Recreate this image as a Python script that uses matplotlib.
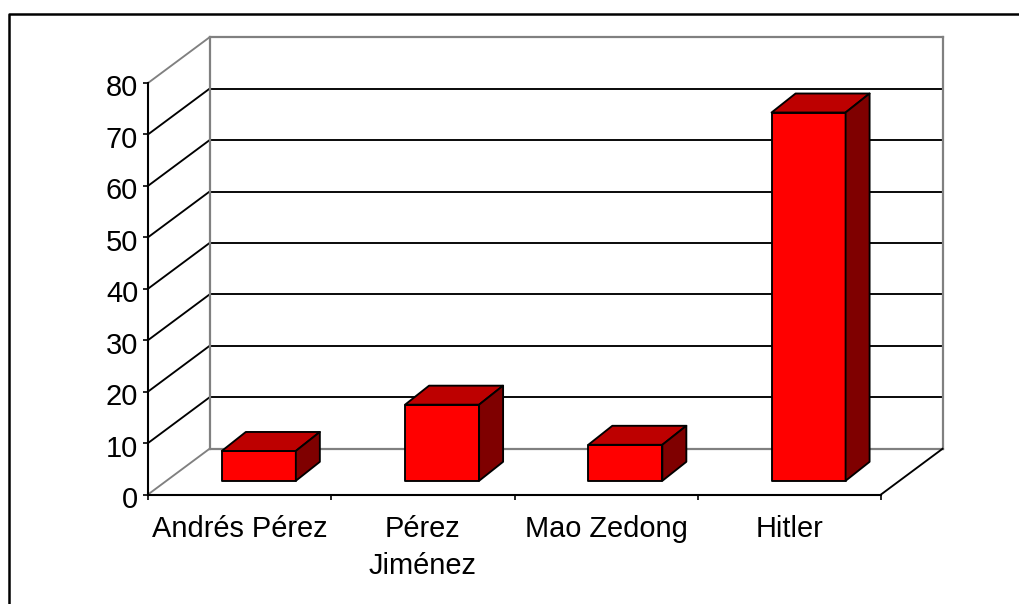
import matplotlib
matplotlib.use("Agg")
import matplotlib.pyplot as plt
from matplotlib.lines import Line2D
from matplotlib.patches import Polygon
from matplotlib.transforms import Affine2D

categories = ["Andrés Pérez", "Pérez\nJiménez", "Mao Zedong", "Hitler"]
values = [5.8, 14.8, 7.0, 71.6]
y_ticks = [0, 10, 20, 30, 40, 50, 60, 70, 80]

W, H = 1019, 604
plt.rcParams["font.family"] = ["Liberation Sans", "DejaVu Sans"]
fig = plt.figure(figsize=(W / 100, H / 100), dpi=100, facecolor="white")

# Outer frame
fig.add_artist(Line2D([9 / W, 9 / W, 1], [0, 1 - 13.5 / H, 1 - 13.5 / H],
                      transform=fig.transFigure, color="black", lw=1.8))

L, R, T, B = 148, 881, 83, 494.5
ax = fig.add_axes([L / W, 1 - B / H, (R - L) / W, (B - T) / H])
ax.patch.set_visible(False)
ax.set_xlim(0, len(categories))
ax.set_ylim(0, 80)
for s in ("top", "right"):
    ax.spines[s].set_visible(False)
for s in ("left", "bottom"):
    ax.spines[s].set_linewidth(1.5)
    ax.spines[s].set_zorder(6)

FS = 20.9
ax.set_yticks(y_ticks)
ax.set_xticks(range(len(categories) + 1))
ax.set_xticklabels([])
ax.set_xticks([i + 0.5 for i in range(len(categories))], categories, minor=True)
ax.tick_params(axis="both", which="major", length=5 * 0.72, width=1.2, labelsize=FS, pad=3.5)
ax.tick_params(axis="x", which="minor", length=0, labelsize=FS, pad=14.5)
for lab in ax.get_xticklabels(minor=True):
    lab.set_linespacing(1.42)
for lab in ax.get_yticklabels():
    lab.set_transform(lab.get_transform() + Affine2D().translate(0, -2.5))

# Depth offsets in display pixels
DX, DY = 61.5, 45.7
back = ax.transData + Affine2D().translate(DX, DY)
n = len(categories)
GREY = "#808080"
LW = 1.35


def depth_line(x, y, color):
    p0 = ax.transData.transform((x, y))
    ax.add_line(Line2D([p0[0], p0[0] + DX], [p0[1], p0[1] + DY], transform=None,
                       color=color, lw=LW, clip_on=False, zorder=2))


for v in y_ticks:
    edge = v in (y_ticks[0], y_ticks[-1])
    color = GREY if edge else "black"
    ax.plot([0, n], [v, v], transform=back, color=color, lw=1.6 if edge else LW,
            clip_on=False, zorder=1.5 if edge else 1.2, solid_capstyle="projecting")
    depth_line(0, v, color)
ax.plot([0, 0], [0, 80], transform=back, color=GREY, lw=1.6, clip_on=False, zorder=2)
ax.plot([n, n], [0, 80], transform=back, color=GREY, lw=1.6, clip_on=False, zorder=2)
depth_line(n, 0, "black")

# Bars drawn as boxes offset into the depth of the floor
BAR_W = 0.404
FX, FY = 19.2, 13.7
BX, BY = 24.0, 19.0
front = ax.transData + Affine2D().translate(FX, FY)
rear = ax.transData + Affine2D().translate(FX + BX, FY + BY)

for i, v in enumerate(values):
    x0, x1 = i + 0.5 - BAR_W / 2, i + 0.5 + BAR_W / 2
    f = front.transform([(x0, 0), (x1, 0), (x1, v), (x0, v)])
    r = rear.transform([(x0, 0), (x1, 0), (x1, v), (x0, v)])
    kw = dict(closed=True, transform=None, ec="black", lw=LW, clip_on=False,
              joinstyle="round", zorder=4)
    ax.add_patch(Polygon(f, fc="#ff0000", **kw))
    ax.add_patch(Polygon([f[3], f[2], r[2], r[3]], fc="#bd0000", **kw))
    ax.add_patch(Polygon([f[1], r[1], r[2], f[2]], fc="#7f0000", **kw))

fig.savefig("out.png", dpi=100, facecolor="white")
